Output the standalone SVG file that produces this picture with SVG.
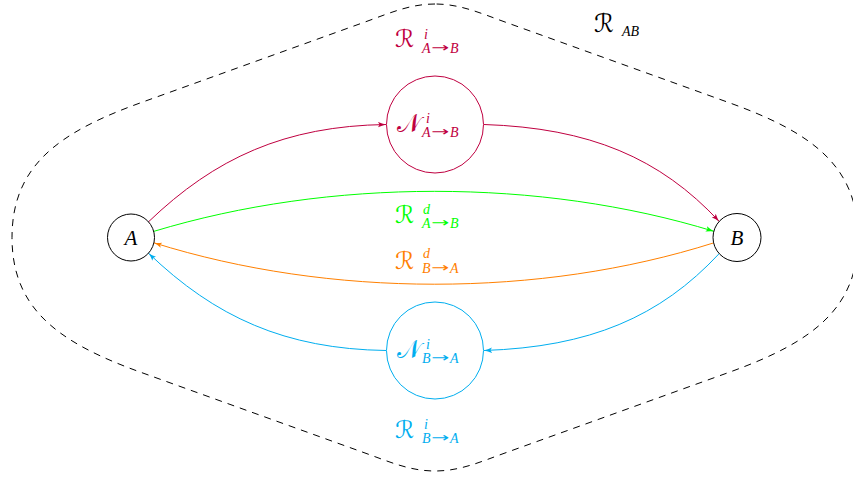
<svg xmlns="http://www.w3.org/2000/svg" width="853" height="480" viewBox="0 0 853 480">
<style>
.node{fill:none;stroke:#000;stroke-width:1}
.lbl{font-family:"Liberation Serif","DejaVu Serif",serif;font-style:italic;font-size:14px}
.cal{font-family:"DejaVu Serif","DejaVu Sans",serif;font-style:normal;font-size:25px}
.calr{font-family:"DejaVu Serif","DejaVu Sans",serif;font-style:normal;font-size:24px}
.arr{font-family:"DejaVu Sans",sans-serif;font-style:normal;font-size:13px}
.big{font-size:21px}
.edge{fill:none;stroke-width:1}
</style>
<defs>
<marker id="ap" viewBox="0 0 8 6" refX="8" refY="3" markerWidth="8" markerHeight="6" markerUnits="userSpaceOnUse" orient="auto"><path d="M0,0.3 Q4,2.2 8,3 Q4,3.8 0,5.7 L1.6,3 Z" fill="#BF0040"/></marker>
<marker id="ag" viewBox="0 0 8 6" refX="8" refY="3" markerWidth="8" markerHeight="6" markerUnits="userSpaceOnUse" orient="auto"><path d="M0,0.3 Q4,2.2 8,3 Q4,3.8 0,5.7 L1.6,3 Z" fill="#00FF00"/></marker>
<marker id="ao" viewBox="0 0 8 6" refX="8" refY="3" markerWidth="8" markerHeight="6" markerUnits="userSpaceOnUse" orient="auto"><path d="M0,0.3 Q4,2.2 8,3 Q4,3.8 0,5.7 L1.6,3 Z" fill="#FF8000"/></marker>
<marker id="ab" viewBox="0 0 8 6" refX="8" refY="3" markerWidth="8" markerHeight="6" markerUnits="userSpaceOnUse" orient="auto"><path d="M0,0.3 Q4,2.2 8,3 Q4,3.8 0,5.7 L1.6,3 Z" fill="#00AEEF"/></marker>
</defs>
<rect width="853" height="480" fill="#fff"/>
<g id="region">
<path d="M435,4 C410,4 390,13 365,22 L140,103 C60,132 12,165 12,237.5 C12,310 60,343 140,372 L365,453 C390,462 410,471 435,471 C460,471 480,462 505,453 L730,372 C810,343 858,310 858,237.5 C858,165 810,132 730,103 L505,22 C480,13 460,4 435,4 Z" fill="none" stroke="#000" stroke-width="1" stroke-dasharray="7 6"/>
<text class="lbl" x="594" y="32"><tspan class="cal">ℛ</tspan><tspan x="622" y="36">AB</tspan></text>
</g>
<g id="connectors">
<path class="edge" stroke="#BF0040" d="M148.5,221.8 C215,158 285,126 386,124.5" marker-end="url(#ap)"/>
<path class="edge" stroke="#BF0040" d="M484,124.5 C590,128 660,158 719.2,221.4" marker-end="url(#ap)"/>
<path class="edge" stroke="#00FF00" d="M153.7,231.4 C330,178 540,178 713.8,231.3" marker-end="url(#ag)"/>
<path class="edge" stroke="#FF8000" d="M713.6,242.9 C540,298 330,298 153.9,242.8" marker-end="url(#ao)"/>
<path class="edge" stroke="#00AEEF" d="M719.2,253.6 C660,317 590,347 484,350.5" marker-end="url(#ab)"/>
<path class="edge" stroke="#00AEEF" d="M386,350.5 C285,349 215,317 148.5,253.2" marker-end="url(#ab)"/>
</g>
<g id="nodeA">
<circle class="node" cx="131" cy="237.5" r="23.5"/>
<text class="lbl big" x="131" y="245" text-anchor="middle">A</text>
</g>
<g id="nodeB">
<circle class="node" cx="737" cy="237.5" r="24"/>
<text class="lbl big" x="737" y="245" text-anchor="middle">B</text>
</g>
<g id="nodeNAB" fill="#BF0040">
<circle cx="435" cy="124.5" r="48.5" fill="none" stroke="#BF0040" stroke-width="1"/>
<text class="lbl" x="397" y="132"><tspan class="cal">𝒩</tspan><tspan x="426" y="123">i</tspan><tspan x="422" y="137">A</tspan><tspan class="arr" x="431" y="136" textLength="18" lengthAdjust="spacingAndGlyphs">→</tspan><tspan x="450" y="137">B</tspan></text>
</g>
<g id="nodeNBA" fill="#00AEEF">
<circle cx="435" cy="350.5" r="48.5" fill="none" stroke="#00AEEF" stroke-width="1"/>
<text class="lbl" x="397" y="358"><tspan class="cal">𝒩</tspan><tspan x="426" y="349">i</tspan><tspan x="422" y="363">B</tspan><tspan class="arr" x="431" y="362" textLength="18" lengthAdjust="spacingAndGlyphs">→</tspan><tspan x="450" y="363">A</tspan></text>
</g>
<g id="labelRiAB" fill="#BF0040"><text class="lbl" x="395" y="47"><tspan class="calr">ℛ</tspan><tspan x="424" y="39">i</tspan><tspan x="422" y="53">A</tspan><tspan class="arr" x="431" y="52" textLength="18" lengthAdjust="spacingAndGlyphs">→</tspan><tspan x="450" y="53">B</tspan></text></g>
<g id="labelRdAB" fill="#00FF00"><text class="lbl" x="395" y="223"><tspan class="calr">ℛ</tspan><tspan x="423" y="214">d</tspan><tspan x="422" y="228">A</tspan><tspan class="arr" x="431" y="227" textLength="18" lengthAdjust="spacingAndGlyphs">→</tspan><tspan x="450" y="228">B</tspan></text></g>
<g id="labelRdBA" fill="#FF8000"><text class="lbl" x="395" y="269"><tspan class="calr">ℛ</tspan><tspan x="423" y="258">d</tspan><tspan x="422" y="273">B</tspan><tspan class="arr" x="431" y="272" textLength="18" lengthAdjust="spacingAndGlyphs">→</tspan><tspan x="450" y="273">A</tspan></text></g>
<g id="labelRiBA" fill="#00AEEF"><text class="lbl" x="395" y="438"><tspan class="calr">ℛ</tspan><tspan x="424" y="429">i</tspan><tspan x="422" y="443">B</tspan><tspan class="arr" x="431" y="442" textLength="18" lengthAdjust="spacingAndGlyphs">→</tspan><tspan x="450" y="443">A</tspan></text></g>
</svg>
